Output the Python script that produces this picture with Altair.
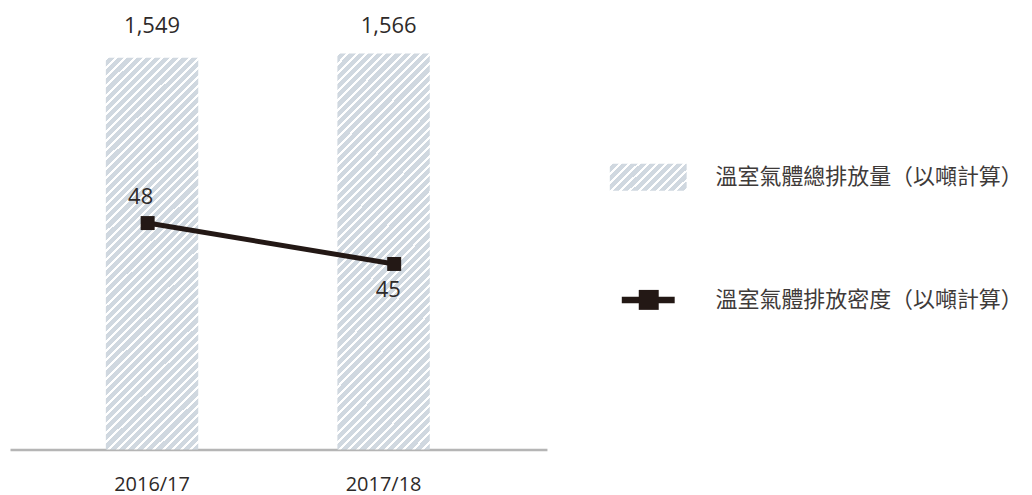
import altair as alt
import pandas as pd

# ---- data ----
years = ["2016/17", "2017/18"]
totals = [1549, 1566]
intensity = [48, 45]
legend_labels = ["溫室氣體總排放量（以噸計算）", "溫室氣體排放密度（以噸計算）"]
legend_kinds = ["bar", "line"]

df = pd.DataFrame({"year": years, "total": totals, "intensity": intensity})
leg = pd.DataFrame({"label": legend_labels, "kind": legend_kinds})

# ---- style ----
GREY = "#d0d8e0"
WHITE = "#ffffff"
DARK = "#231815"
TEXT = "#2e2a29"
LEG_TEXT = "#3e3a39"
NUM_FONT = "Open Sans"
CJK_FONT = "Noto Sans CJK TC"


def hatch(W, H, period=9.2, white=3.0):
    """Diagonal '/' stripes via a many-stop linear gradient (bbox units)."""
    L = W + H
    a = L / (W * (1 + (H / W) ** 2))
    stops = []
    pos = 0.0
    while pos < L:
        s = pos / L
        m = min((pos + white) / L, 1.0)
        e = min((pos + period) / L, 1.0)
        stops += [
            alt.GradientStop(color=WHITE, offset=s),
            alt.GradientStop(color=WHITE, offset=m),
            alt.GradientStop(color=GREY, offset=m),
            alt.GradientStop(color=GREY, offset=e),
        ]
        pos += period
    return alt.LinearGradient(gradient="linear", stops=stops,
                              x1=0, y1=0, x2=a, y2=a * H / W)


W_PLOT, H_PLOT = 538, 440

xband = alt.Scale(domain=years, paddingInner=0.601, paddingOuter=0.46, align=0.45)
ybar = alt.Scale(domain=[0, 1735.6], nice=False, zero=True)

base_bar = alt.Chart(df)
bars = base_bar.mark_bar(fill=hatch(92.6, 395)).encode(
    x=alt.X("year:N", scale=xband, sort=years, title=None,
            axis=alt.Axis(domainColor="#b5b5b5", domainWidth=2.5, ticks=False, tickSize=0,
                          labelAngle=0, labelFont=NUM_FONT, labelFontSize=20,
                          labelColor=TEXT, labelPadding=35, labelBaseline="middle",
                          grid=False)),
    y=alt.Y("total:Q", scale=ybar, axis=None),
)
label_base = base_bar.transform_joinaggregate(top="max(total)").encode(
    x=alt.X("year:N", scale=xband, sort=years),
    y=alt.Y("top:Q", scale=ybar),
    text=alt.Text("total:Q", format=","),
)
bar_label1 = label_base.transform_filter(alt.datum.year == years[0]).mark_text(
    font=NUM_FONT, fontSize=22, color=TEXT, baseline="middle", dy=-27)
bar_label2 = label_base.transform_filter(alt.datum.year == years[1]).mark_text(
    font=NUM_FONT, fontSize=22, color=TEXT, baseline="middle", dy=-27, dx=5)
bar_layer = alt.layer(bars, bar_label1, bar_label2)

xpoint = alt.Scale(type="point", domain=years, padding=0.589, align=0.474)
yline = alt.Scale(domain=[31.39, 63.585], nice=False, zero=False)
base_line = alt.Chart(df).encode(
    x=alt.X("year:N", scale=xpoint, sort=years, axis=None),
    y=alt.Y("intensity:Q", scale=yline, axis=None),
)
line = base_line.mark_line(color=DARK, strokeWidth=5)
pts = base_line.mark_square(size=196, color=DARK, opacity=1)
lab_above = base_line.transform_filter(alt.datum.year == years[0]).mark_text(
    font=NUM_FONT, fontSize=22, color=TEXT, baseline="middle", dx=-7, dy=-26
).encode(text="intensity:Q")
lab_below = base_line.transform_filter(alt.datum.year == years[1]).mark_text(
    font=NUM_FONT, fontSize=22, color=TEXT, baseline="middle", dx=-6, dy=26
).encode(text="intensity:Q")
line_layer = alt.layer(line, pts, lab_above, lab_below)

main = alt.layer(bar_layer, line_layer).resolve_scale(
    x="independent", y="independent"
).properties(width=W_PLOT, height=H_PLOT)

# ---- legend panel ----
yleg = alt.Scale(domain=legend_labels, range=[153.5, 303.5], paddingInner=0.78, paddingOuter=0)
leg_base = alt.Chart(leg).encode(y=alt.Y("label:N", scale=yleg, sort=legend_labels, axis=None))
leg_rect = leg_base.transform_filter(alt.datum.kind == "bar").mark_rect(
    fill=hatch(77, 27.5)
).encode(x=alt.value(11), x2=alt.value(88))
leg_rule = leg_base.transform_filter(alt.datum.kind == "line").mark_rule(
    color=DARK, strokeWidth=6.5
).encode(x=alt.value(23), x2=alt.value(76))
leg_sq = leg_base.transform_filter(alt.datum.kind == "line").mark_square(
    size=400, color=DARK, opacity=1
).encode(x=alt.value(50))
leg_text = leg_base.mark_text(align="left", baseline="middle", font=CJK_FONT,
                              fontSize=22, color=LEG_TEXT).encode(
    x=alt.value(117), text="label:N")
legend = alt.layer(leg_rect, leg_rule, leg_sq, leg_text).properties(width=425, height=H_PLOT)

chart = alt.hconcat(main, legend, spacing=52).properties(
    padding={"left": 2, "top": 2, "right": 0, "bottom": 4},
    background="white",
).configure_view(stroke=None)

chart.save("out.html", embed_options={"renderer": "svg", "actions": False})
